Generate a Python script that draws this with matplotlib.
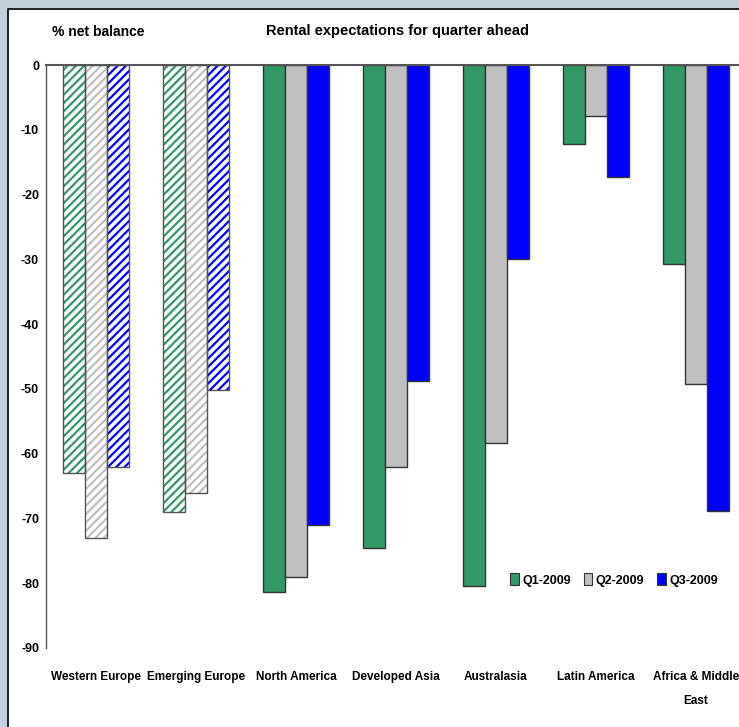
import matplotlib
matplotlib.use("Agg")
import matplotlib.pyplot as plt
from matplotlib.patches import Rectangle, Patch
import numpy as np
from matplotlib import font_manager

categories = ["Western Europe", "Emerging Europe", "North America", "Developed Asia",
              "Australasia", "Latin America", "Africa & Middle\nEast"]
q1 = [-63, -69, -81.3, -74.5, -80.4, -12.2, -30.7]
q2 = [-73, -66, -79, -62, -58.3, -7.9, -49.2]
q3 = [-62, -50.2, -71, -48.8, -30, -17.3, -68.8]
series_names = ["Q1-2009", "Q2-2009", "Q3-2009"]
colors = ["#339966", "#C0C0C0", "#0000FF"]
hatched = [True, True, False, False, False, False, False]
yticks = [0, -10, -20, -30, -40, -50, -60, -70, -80, -90]

avail = {f.name for f in font_manager.fontManager.ttflist}
fam = "Liberation Sans Narrow" if "Liberation Sans Narrow" in avail else "Liberation Sans"
plt.rcParams['font.family'] = [fam, "DejaVu Sans"]
plt.rcParams['hatch.linewidth'] = 1.6

fig = plt.figure(figsize=(7.39, 7.27), dpi=100)
fig.patch.set_facecolor("#C3CFD9")
W, H = 739, 727
bg = Rectangle((8 / W, -0.05), 1.1, 1 - 9 / H + 0.05, transform=fig.transFigure,
               facecolor="white", edgecolor="black", linewidth=1.2, zorder=-5)
fig.add_artist(bg)

ax = fig.add_axes([46 / W, 1 - 648 / H, (746 - 46) / W, (648 - 65) / H])
ax.set_zorder(1)
ax.set_facecolor("none")
x = np.arange(len(categories))
bw = 0.22
for k, (vals, c) in enumerate(zip([q1, q2, q3], colors)):
    xs = x + (k - 1) * bw
    for i in range(len(categories)):
        if hatched[i]:
            ax.bar(xs[i], vals[i], bw, facecolor="white", edgecolor=c, hatch="////",
                   linewidth=0, zorder=2)
            ax.bar(xs[i], vals[i], bw, facecolor="none", edgecolor="#555555",
                   linewidth=1.0, zorder=3)
        else:
            ax.bar(xs[i], vals[i], bw, facecolor=c, edgecolor="#333333",
                   linewidth=1.0, zorder=2)

ax.set_xlim(-0.5, 6.5)
ax.set_ylim(-90, 0)
ax.set_yticks(yticks)
ax.set_yticklabels([str(t) for t in yticks], fontweight="bold", fontsize=9)
ax.tick_params(axis="y", length=0, pad=5)
ax.set_xticks([])
for s in ["right", "bottom"]:
    ax.spines[s].set_visible(False)
ax.spines["left"].set_color("#555555")
ax.spines["left"].set_linewidth(1.0)
ax.spines["top"].set_color("#555555")
ax.spines["top"].set_linewidth(1.5)

for i, c in enumerate(categories):
    ax.text(x[i], -93.6, c, ha="center", va="top", fontweight="bold", fontsize=8.5,
            linespacing=2.3)

fig.text(397 / W, 1 - 31 / H, "Rental expectations for quarter ahead", ha="center",
         va="center", fontweight="bold", fontsize=10.5)
fig.text(52 / W, 1 - 32 / H, "% net balance", ha="left", va="center",
         fontweight="bold", fontsize=10)

handles = [Patch(facecolor=c, edgecolor="#333333", linewidth=0.8) for c in colors]
leg = ax.legend(handles, series_names, ncol=3, loc="center",
                bbox_to_anchor=((614 - 46) / 700, (648 - 580) / 583),
                frameon=False, handlelength=0.7, handleheight=1.1, handletextpad=0.3,
                columnspacing=1.0, prop={"weight": "bold", "size": 9})

fig.savefig("out.png", dpi=100)
